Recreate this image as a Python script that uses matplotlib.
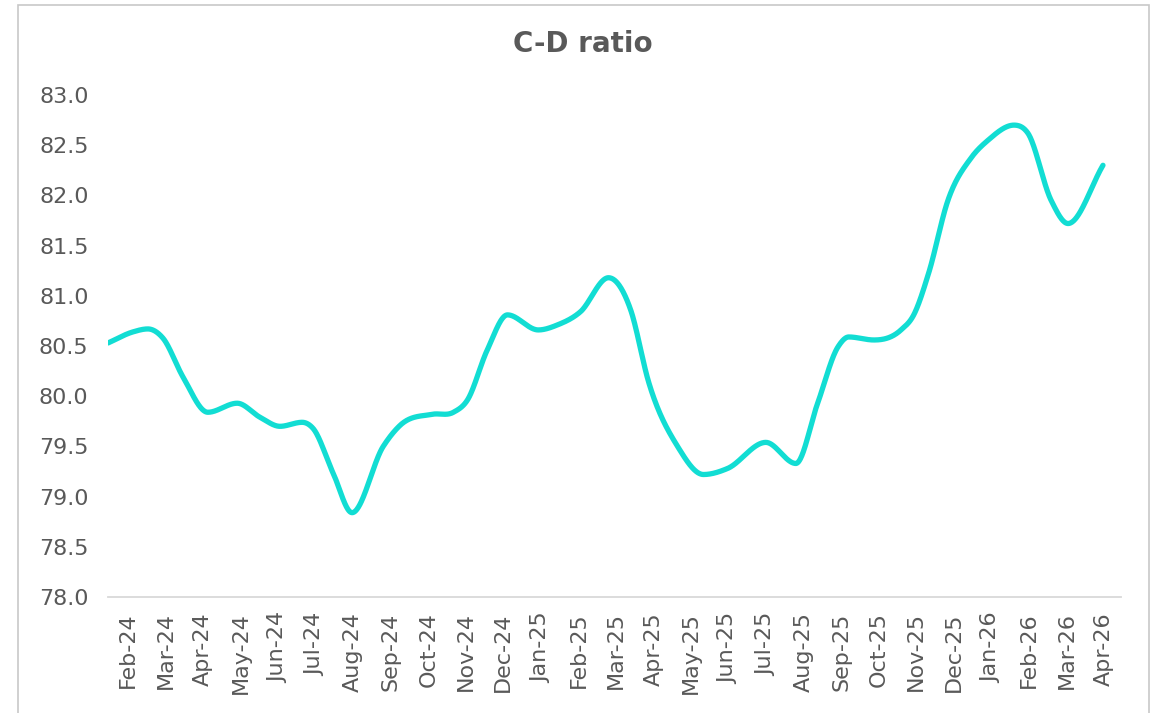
import numpy as np
import matplotlib
matplotlib.use("Agg")
import matplotlib.pyplot as plt
from matplotlib.patches import Rectangle

# Month labels (category axis)
months = ["Feb-24", "Mar-24", "Apr-24", "May-24", "Jun-24", "Jul-24", "Aug-24",
          "Sep-24", "Oct-24", "Nov-24", "Dec-24", "Jan-25", "Feb-25", "Mar-25",
          "Apr-25", "May-25", "Jun-25", "Jul-25", "Aug-25", "Sep-25", "Oct-25",
          "Nov-25", "Dec-25", "Jan-26", "Feb-26", "Mar-26", "Apr-26"]

# Readings of the C-D ratio (position in months from Feb-24, value)
obs_pos = [-0.53, 0.13, 0.53, 0.93, 1.47, 2.13, 2.91, 3.52, 4.05, 4.64, 4.93,
           5.47, 5.97, 6.80, 7.25, 8.11, 8.67, 9.04, 9.57, 10.11, 10.93, 11.44,
           12.05, 12.80, 13.39, 13.87, 14.64, 15.33, 15.97, 16.99, 17.79, 18.37,
           18.91, 19.20, 19.87, 20.59, 20.93, 21.33, 21.84, 22.45, 22.91, 23.60,
           23.97, 24.59, 25.04, 25.97]
cd_ratio = [80.53, 80.64, 80.67, 80.58, 80.19, 79.84, 79.93, 79.79, 79.70, 79.74,
            79.68, 79.23, 78.84, 79.50, 79.71, 79.82, 79.84, 79.96, 80.46, 80.81,
            80.66, 80.71, 80.84, 81.18, 80.86, 80.14, 79.50, 79.22, 79.28, 79.54,
            79.33, 79.93, 80.49, 80.59, 80.56, 80.66, 80.81, 81.23, 81.95, 82.37,
            82.55, 82.70, 82.62, 81.95, 81.72, 82.30]

yticks = [78.0, 78.5, 79.0, 79.5, 80.0, 80.5, 81.0, 81.5, 82.0, 82.5, 83.0]


def smooth_curve(x, y, xn):
    """Cubic Hermite curve through the points (smoothed line)."""
    x = np.asarray(x, float)
    y = np.asarray(y, float)
    h = np.diff(x)
    d = np.diff(y) / h
    n = len(x)
    m = np.zeros(n)
    for k in range(1, n - 1):
        if d[k - 1] * d[k] <= 0:
            m[k] = 0.0
        else:
            m[k] = (h[k] * d[k - 1] + h[k - 1] * d[k]) / (h[k - 1] + h[k])
    m[0] = d[0]
    m[-1] = d[-1]
    idx = np.clip(np.searchsorted(x, xn) - 1, 0, n - 2)
    t = (xn - x[idx]) / h[idx]
    h00 = 2 * t**3 - 3 * t**2 + 1
    h10 = t**3 - 2 * t**2 + t
    h01 = -2 * t**3 + 3 * t**2
    h11 = t**3 - t**2
    return (h00 * y[idx] + h10 * h[idx] * m[idx]
            + h01 * y[idx + 1] + h11 * h[idx] * m[idx + 1])


W, H = 1158, 713
fig = plt.figure(figsize=(W / 100, H / 100), dpi=100)
ax = fig.add_axes([108 / W, 1 - 597 / H, (1121 - 108) / W, (597 - 95) / H])

xs = np.linspace(obs_pos[0], obs_pos[-1], 2000)
ys = smooth_curve(obs_pos, cd_ratio, xs)
ax.plot(xs, ys, color="#12DDD3", lw=3.8, solid_capstyle="round")

ax.set_ylim(78.0, 83.0)
ax.set_xlim(-0.53, 26.45)
ax.set_yticks(yticks)
ax.set_yticklabels([f"{v:.1f}" for v in yticks])
ax.set_xticks(range(len(months)))
ax.set_xticklabels(months, rotation=90)

grey = "#595959"
ax.tick_params(axis="both", length=0, colors=grey, labelsize=16)
ax.tick_params(axis="x", pad=11)
ax.tick_params(axis="y", pad=14)
for s in ["top", "right", "left"]:
    ax.spines[s].set_visible(False)
ax.spines["bottom"].set_color("#D9D9D9")
ax.spines["bottom"].set_linewidth(1.3)

fig.text(583 / W, 1 - 44 / H, "C-D ratio", ha="center", va="center",
         fontsize=20, fontweight="bold", color=grey)

fig.patches.append(Rectangle((17.5 / W, -0.05), (1149 - 17.5) / W, 1.05 - 5 / H,
                             transform=fig.transFigure, fill=False,
                             edgecolor="#C8C8C8", lw=1.2))

fig.savefig("out.png", dpi=100)
